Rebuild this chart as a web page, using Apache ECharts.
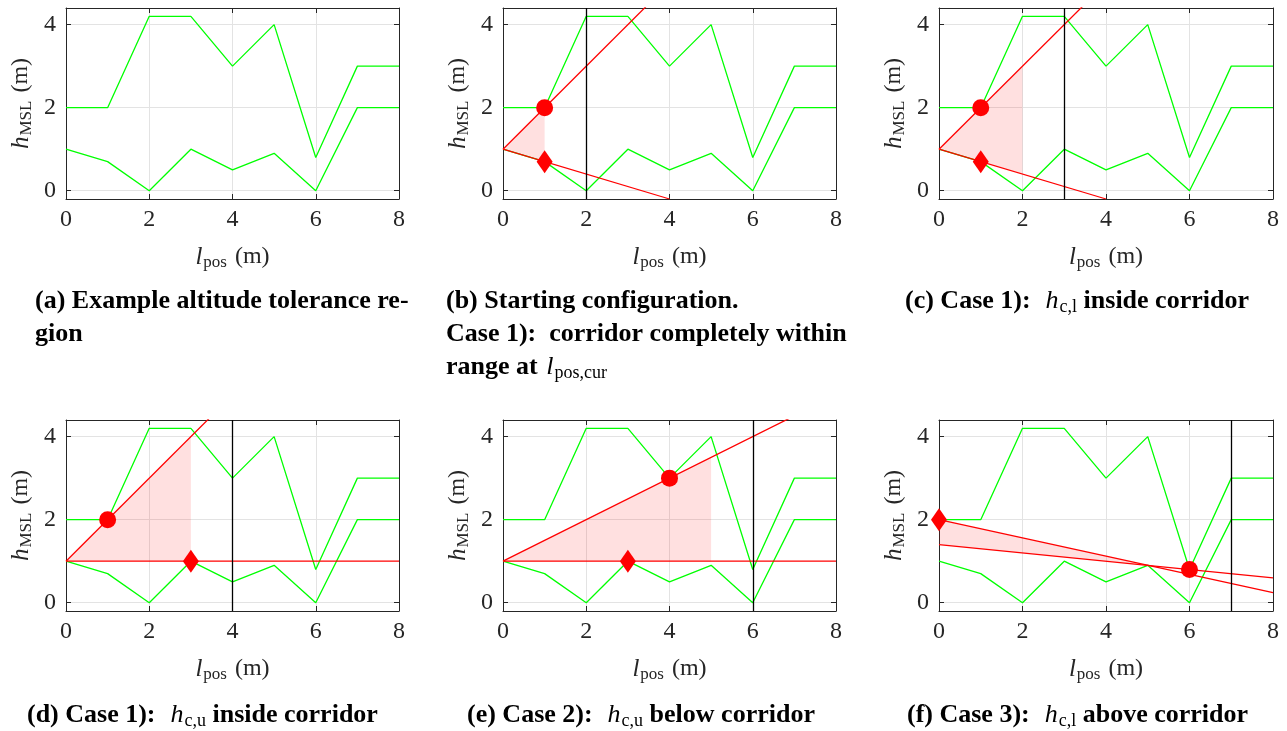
<!DOCTYPE html>
<html>
<head>
<meta charset="utf-8">
<script src="https://cdn.jsdelivr.net/npm/echarts@6/dist/echarts.min.js"></script>
<style>
  html, body { margin: 0; padding: 0; background: #fff; }
  #chart { width: 1287px; height: 731px; }
</style>
</head>
<body>
<div id="chart"></div>
<script>
// Longitudinal positions of the corridor samples (m)
const posGrid = [0, 1, 2, 3, 4, 5, 6, 7, 8];
// Upper and lower altitude bounds of the tolerance corridor (m)
const upperBound = [2, 2, 4.2, 4.2, 3, 4, 0.8, 3, 3];
const lowerBound = [1, 0.7, 0, 1, 0.5, 0.9, 0, 2, 2];
// Current evaluation position per panel (vertical marker), null = none
const cursorPos = [null, 2, 3, 4, 6, 7];
// Red bounding rays per panel, given as two end points each
const upperRay = [
  null,
  [[0, 1], [5, 6]],
  [[0, 1], [5, 6]],
  [[0, 1], [5, 6]],
  [[0, 1], [8, 5]],
  [[0, 2], [8, 0.24]]
];
const lowerRay = [
  null,
  [[0, 1], [4, -0.2]],
  [[0, 1], [4, -0.2]],
  [[0, 1], [8, 1]],
  [[0, 1], [8, 1]],
  [[0, 1.4], [8, 0.6]]
];
// Feasible cone region already checked, as polygon vertices
const feasibleRegion = [
  null,
  [[0, 1], [1, 2], [1, 0.7]],
  [[0, 1], [2, 3], [2, 0.4]],
  [[0, 1], [3, 4], [3, 1]],
  [[0, 1], [5, 3.5], [5, 1]],
  [[0, 2], [5, 0.9], [0, 1.4]]
];
// Limiting points: upper constraint (circle) and lower constraint (diamond)
const circlePoint = [null, [1, 2], [1, 2], [1, 2], [4, 3], [6, 0.8]];
const diamondPoint = [null, [1, 0.7], [1, 0.7], [3, 1], [3, 1], [0, 2]];
// Axis ranges and tick step
const xRange = [0, 8];
const yRange = [-0.2, 4.4];
const xStep = 2;
// Sub-figure captions
const captions = [
  '{b|(a) Example altitude tolerance re-}\n{b|gion}',
  '{b|(b) Starting configuration.}\n{b|Case 1):  corridor completely within}\n{b|range at }{mi|l}{ms|pos,cur}',
  '{b|(c) Case 1):  }{mi|h}{ms|c,l}{b| inside corridor}',
  '{b|(d) Case 1):  }{mi|h}{ms|c,u}{b| inside corridor}',
  '{b|(e) Case 2):  }{mi|h}{ms|c,u}{b| below corridor}',
  '{b|(f) Case 3):  }{mi|h}{ms|c,l}{b| above corridor}'
];

// Layout of the 2x3 panel grid
const panelBoxes = [
  { left: 66, top: 8, width: 333, height: 191 },
  { left: 503, top: 8, width: 333, height: 191 },
  { left: 939, top: 8, width: 334, height: 191 },
  { left: 66, top: 420, width: 333, height: 191 },
  { left: 503, top: 420, width: 333, height: 191 },
  { left: 939, top: 420, width: 334, height: 191 }
];
const captionPos = [
  { left: 35, top: 285 }, { left: 446, top: 285 }, { left: 905, top: 285 },
  { left: 27, top: 699 }, { left: 467, top: 699 }, { left: 907, top: 699 }
];

const SERIF = '"Liberation Serif", "DejaVu Serif", serif';
const AXIS_DARK = '#262626';
const GREEN = '#00ff00';
const RED = '#ff0000';

const nameRich = {
  i: { fontFamily: SERIF, fontStyle: 'italic', fontSize: 25, color: AXIS_DARK, lineHeight: 28 },
  sub: { fontFamily: SERIF, fontSize: 17, color: AXIS_DARK, lineHeight: 18, padding: [12, 0, 0, 1] },
  n: { fontFamily: SERIF, fontSize: 24, color: AXIS_DARK, lineHeight: 28, padding: [0, 0, 0, 8] }
};

const captionRich = {
  b: { fontFamily: SERIF, fontWeight: 'bold', fontSize: 26, color: '#000', lineHeight: 33 },
  mi: { fontFamily: SERIF, fontWeight: 'normal', fontStyle: 'italic', fontSize: 26, color: '#000', lineHeight: 33, padding: [0, 0, 0, 2] },
  ms: { fontFamily: SERIF, fontWeight: 'normal', fontSize: 18, color: '#000', lineHeight: 18, padding: [12, 0, 0, 1] }
};

const grid = [], xAxis = [], yAxis = [], series = [], title = [];

const tickStyle = { inside: true, length: 5, lineStyle: { color: AXIS_DARK, width: 1 } };
const lineAxis = { show: true, onZero: false, lineStyle: { color: AXIS_DARK, width: 1 } };

panelBoxes.forEach((box, k) => {
  grid.push(Object.assign({ containLabel: false }, box));

  // bottom x axis with labels and name
  xAxis.push({
    type: 'value', gridIndex: k, min: xRange[0], max: xRange[1], interval: xStep,
    axisLine: lineAxis, axisTick: tickStyle,
    splitLine: { show: true, lineStyle: { color: '#e3e3e3', width: 1 } },
    axisLabel: { fontFamily: SERIF, fontSize: 24, color: AXIS_DARK, margin: 9 },
    name: '{i|l}{sub|pos}{n|(m)}', nameLocation: 'middle', nameGap: 44,
    nameTextStyle: { rich: nameRich }
  });
  // top x axis closing the box
  xAxis.push({
    type: 'value', gridIndex: k, position: 'top', min: xRange[0], max: xRange[1], interval: xStep,
    axisLine: lineAxis, axisTick: tickStyle, splitLine: { show: false }, axisLabel: { show: false }
  });
  // left y axis
  yAxis.push({
    type: 'value', gridIndex: k, min: yRange[0], max: yRange[1],
    splitNumber: 2, minInterval: 2, maxInterval: 2,
    axisLine: lineAxis, axisTick: tickStyle,
    splitLine: { show: true, lineStyle: { color: '#e3e3e3', width: 1 } },
    axisLabel: { fontFamily: SERIF, fontSize: 24, color: AXIS_DARK, margin: 10, showMinLabel: false, showMaxLabel: false },
    name: '{i|h}{sub|MSL}{n|(m)}', nameLocation: 'middle', nameGap: 31,
    nameTextStyle: { rich: nameRich }
  });
  // right y axis closing the box
  yAxis.push({
    type: 'value', gridIndex: k, position: 'right', min: yRange[0], max: yRange[1],
    splitNumber: 2, minInterval: 2, maxInterval: 2,
    axisLine: lineAxis, axisTick: tickStyle, splitLine: { show: false }, axisLabel: { show: false }
  });

  const xi = 2 * k, yi = 2 * k;

  // feasible region shading
  if (feasibleRegion[k]) {
    const verts = feasibleRegion[k];
    series.push({
      type: 'custom', xAxisIndex: xi, yAxisIndex: yi, silent: true, z: 1,
      data: verts,
      renderItem: function (params, api) {
        if (params.dataIndex !== 0) return null;
        return {
          type: 'polygon',
          shape: { points: verts.map(v => api.coord(v)) },
          style: { fill: 'rgba(255,0,0,0.12)' }
        };
      }
    });
  }

  const corridorLine = (vals) => ({
    type: 'line', xAxisIndex: xi, yAxisIndex: yi, silent: true, z: 3,
    data: posGrid.map((x, i) => [x, vals[i]]),
    symbol: 'none', lineStyle: { color: GREEN, width: 1.3 }, itemStyle: { color: GREEN }
  });
  const upper = corridorLine(upperBound);
  if (cursorPos[k] !== null) {
    upper.markLine = {
      silent: true, symbol: 'none', label: { show: false },
      lineStyle: { color: '#000', width: 1.3, type: 'solid' },
      data: [{ xAxis: cursorPos[k] }]
    };
  }
  series.push(upper);
  series.push(corridorLine(lowerBound));

  [upperRay[k], lowerRay[k]].forEach(ray => {
    if (!ray) return;
    series.push({
      type: 'line', xAxisIndex: xi, yAxisIndex: yi, silent: true, z: 4, clip: true,
      data: ray, symbol: 'none', lineStyle: { color: RED, width: 1.3 }
    });
  });

  if (circlePoint[k]) {
    series.push({
      type: 'scatter', xAxisIndex: xi, yAxisIndex: yi, silent: true, z: 6, clip: false,
      data: [circlePoint[k]], symbol: 'circle', symbolSize: 17, itemStyle: { color: RED, opacity: 1 }
    });
  }
  if (diamondPoint[k]) {
    series.push({
      type: 'scatter', xAxisIndex: xi, yAxisIndex: yi, silent: true, z: 6, clip: false,
      data: [diamondPoint[k]], symbol: 'diamond', symbolSize: [16, 23], itemStyle: { color: RED, opacity: 1 }
    });
  }

  title.push({
    text: captions[k], left: captionPos[k].left, top: captionPos[k].top, padding: 0,
    textStyle: { rich: captionRich }
  });
});

const chart = echarts.init(document.getElementById('chart'), null, { renderer: 'canvas' });
chart.setOption({
  animation: false,
  backgroundColor: '#ffffff',
  title: title,
  grid: grid,
  xAxis: xAxis,
  yAxis: yAxis,
  series: series
});
</script>
</body>
</html>
